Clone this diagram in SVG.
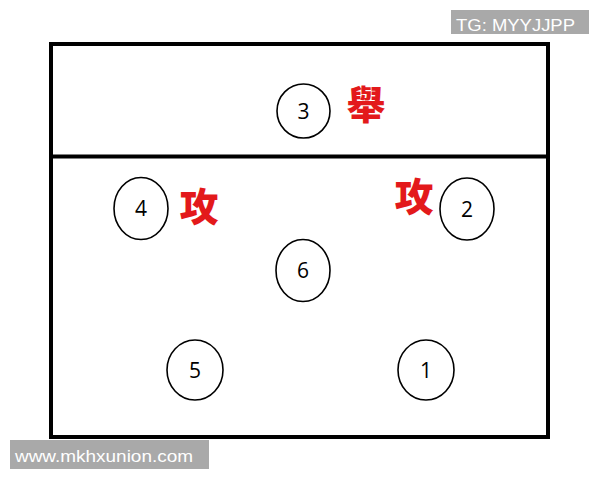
<svg xmlns="http://www.w3.org/2000/svg" width="600" height="480" viewBox="0 0 600 480">
<style>
.court{fill:#fff;stroke:#000;stroke-width:4}
.pos{fill:#fff;stroke:#000;stroke-width:1.6}
.num{font-family:"Open Sans","Noto Sans",sans-serif;font-size:21px;fill:#000;text-anchor:middle}
.cjk{font-family:"Noto Sans CJK TC","Noto Sans CJK SC",sans-serif;font-size:39px;font-weight:900;fill:#e3191b;text-anchor:middle}
.tag{fill:#a9a9a9}
.tagt{font-family:"Liberation Sans",Arial,sans-serif;font-size:16px;fill:#fff}
</style>
<rect width="600" height="480" fill="#fff"/>
<g id="court">
<rect class="court" x="51" y="44" width="497" height="393"/>
<line x1="51" y1="156.5" x2="548" y2="156.5" stroke="#000" stroke-width="4"/>
</g>
<g id="p3"><ellipse class="pos" cx="303.5" cy="111" rx="26.5" ry="27"/><text class="num" x="303.5" y="118.5">3</text></g>
<g id="p4"><ellipse class="pos" cx="141" cy="208.5" rx="27" ry="31"/><text class="num" x="141" y="216">4</text></g>
<g id="p2"><ellipse class="pos" cx="467" cy="209" rx="27" ry="31"/><text class="num" x="467" y="216.5">2</text></g>
<g id="p6"><ellipse class="pos" cx="303" cy="270.5" rx="27" ry="31"/><text class="num" x="303" y="278">6</text></g>
<g id="p5"><ellipse class="pos" cx="195" cy="370" rx="28" ry="30"/><text class="num" x="195" y="377.5">5</text></g>
<g id="p1"><ellipse class="pos" cx="426" cy="370" rx="28" ry="30"/><text class="num" x="426" y="377.5">1</text></g>
<g id="labels">
<text class="cjk" x="366" y="119">舉</text>
<text class="cjk" x="199" y="221">攻</text>
<text class="cjk" x="414" y="211">攻</text>
</g>
<g id="tg"><rect class="tag" x="451" y="10" width="138" height="24"/><text class="tagt" x="456" y="30.5" textLength="119" lengthAdjust="spacingAndGlyphs">TG: MYYJJPP</text></g>
<g id="www"><rect class="tag" x="10" y="440" width="199" height="29"/><text class="tagt" x="15" y="462" font-size="17" textLength="178" lengthAdjust="spacingAndGlyphs">www.mkhxunion.com</text></g>
</svg>
